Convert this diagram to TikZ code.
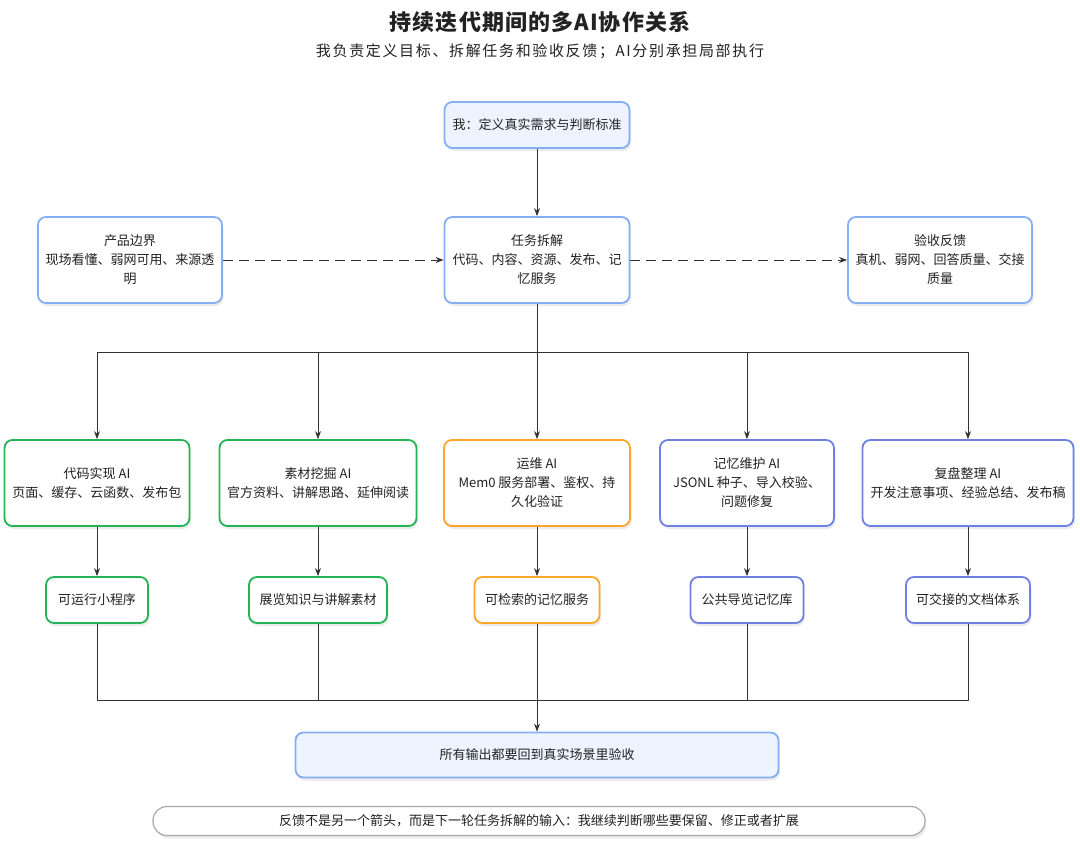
\documentclass[tikz,border=0pt]{standalone}
\usepackage{fontspec}
\setmainfont{Noto Sans CJK SC}
\usetikzlibrary{arrows.meta,shadows}
\definecolor{ink}{HTML}{222222}
\definecolor{wire}{HTML}{333333}
\definecolor{skyline}{HTML}{86AEF5}
\definecolor{skyfill}{HTML}{EDF4FF}
\definecolor{codegreen}{HTML}{22B455}
\definecolor{opsorange}{HTML}{FFA52B}
\definecolor{memviolet}{HTML}{6E80E3}
\definecolor{pillgray}{HTML}{A8A8A8}
\tikzset{
  every picture/.style={line join=round, >={Stealth[length=8pt,width=6pt]}},
  box/.style={draw, line width=1.8pt, rounded corners=8pt, fill=white, align=center, text=ink,
    font=\fontsize{13}{19}\selectfont, inner sep=2pt,
    drop shadow={shadow xshift=1.5pt, shadow yshift=-3pt, fill=black, opacity=0.08}},
  skybox/.style={box, draw=skyline},
  greenbox/.style={box, draw=codegreen},
  orangebox/.style={box, draw=opsorange},
  violetbox/.style={box, draw=memviolet},
  wire/.style={draw=wire, line width=0.9pt},
}
\begin{document}
\begin{tikzpicture}[x=1pt,y=-1pt]
\useasboundingbox[fill=white] (0,0) rectangle (1080,854);
% title
\node[text=ink, font=\fontsize{22}{26}\bfseries\addfontfeatures{LetterSpace=5}] (title) at (540,22) {持续迭代期间的多AI协作关系};
\node[text=ink, font=\fontsize{15}{18}\selectfont\addfontfeatures{LetterSpace=11}] (subtitle) at (540,51) {我负责定义目标、拆解任务和验收反馈；AI分别承担局部执行};
% planning
\node[skybox, fill=skyfill, minimum width=185pt, minimum height=46pt] (me) at (537,125) {我：定义真实需求与判断标准};
\node[skybox, minimum width=184pt, minimum height=86pt] (scope) at (130,260) {产品边界\\现场看懂、弱网可用、来源透\\明};
\node[skybox, minimum width=185pt, minimum height=86pt] (task) at (537,260) {任务拆解\\代码、内容、资源、发布、记\\忆服务};
\node[skybox, minimum width=184pt, minimum height=86pt] (check) at (940,260) {验收反馈\\真机、弱网、回答质量、交接\\质量};
\draw[wire,->] (me) -- (task);
\draw[wire,->,dash pattern=on 10pt off 6pt] (scope) -- (task);
\draw[wire,->,dash pattern=on 10pt off 6pt] (task) -- (check);
% workers
\node[greenbox, minimum width=185pt, minimum height=86pt] (coder) at (97,483) {代码实现 AI\\页面、缓存、云函数、发布包};
\node[greenbox, minimum width=197pt, minimum height=86pt] (miner) at (318,483) {素材挖掘 AI\\官方资料、讲解思路、延伸阅读};
\node[orangebox, minimum width=186pt, minimum height=86pt] (ops) at (537,483) {运维 AI\\Mem0 服务部署、鉴权、持\\久化验证};
\node[violetbox, minimum width=174pt, minimum height=86pt] (keeper) at (747,483) {记忆维护 AI\\JSONL 种子、导入校验、\\问题修复};
\node[violetbox, minimum width=211pt, minimum height=86pt] (review) at (968,483) {复盘整理 AI\\开发注意事项、经验总结、发布稿};
% outputs
\node[greenbox, minimum width=102pt, minimum height=46pt] (app) at (97,600) {可运行小程序};
\node[greenbox, minimum width=138pt, minimum height=46pt] (material) at (318,600) {展览知识与讲解素材};
\node[orangebox, minimum width=125pt, minimum height=46pt] (memsvc) at (537,600) {可检索的记忆服务};
\node[violetbox, minimum width=113pt, minimum height=46pt] (memlib) at (747,600) {公共导览记忆库};
\node[violetbox, minimum width=124pt, minimum height=46pt] (docs) at (968,600) {可交接的文档体系};
% acceptance
\node[skybox, fill=skyfill, minimum width=483pt, minimum height=45pt] (accept) at (537,755) {所有输出都要回到真实场景里验收};
\node[box, draw=pillgray, line width=1.2pt, rounded corners=14pt, minimum width=772pt, minimum height=29pt] (loop) at (539,821) {反馈不是另一个箭头，而是下一轮任务拆解的输入：我继续判断哪些要保留、修正或者扩展};
% bus lines
\coordinate (split) at (537,352);
\coordinate (merge) at (537,700);
\draw[wire] (task) -- (split);
\foreach \w/\o in {coder/app,miner/material,ops/memsvc,keeper/memlib,review/docs}{
  \draw[wire,->] (split) -| (\w.north);
  \draw[wire,->] (\w) -- (\o);
  \draw[wire] (\o.south) |- (merge);
}
\draw[wire,->] (merge) -- (accept);
\end{tikzpicture}
\end{document}
